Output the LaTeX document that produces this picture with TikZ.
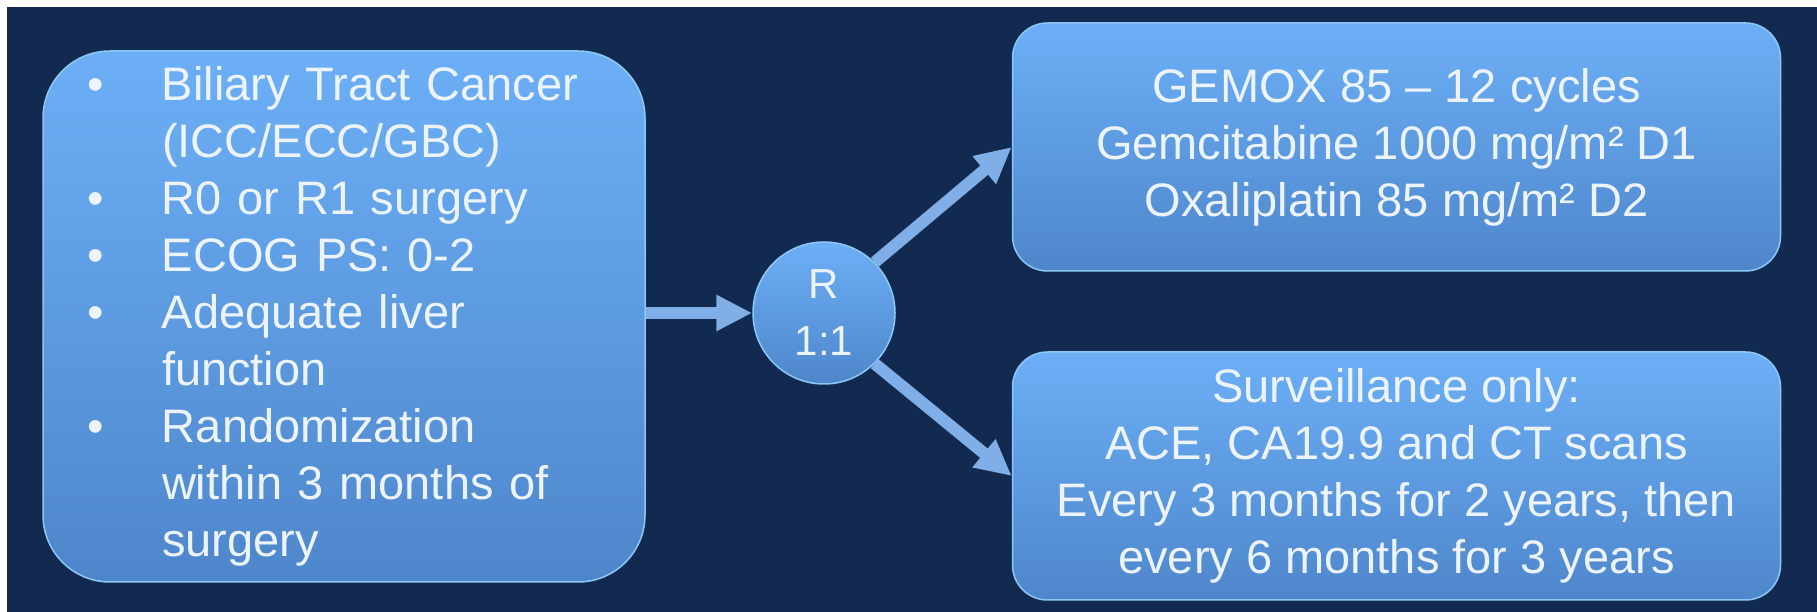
\documentclass[tikz,border=0pt]{standalone}
\usepackage{fontspec}
\setmainfont{Liberation Sans}
\usepackage{xcolor}
\usetikzlibrary{arrows.meta,positioning}
\definecolor{slide}{RGB}{18,42,80}
\definecolor{boxtop}{RGB}{108,175,246}
\definecolor{boxbot}{RGB}{78,134,203}
\definecolor{boxedge}{RGB}{140,200,245}
\definecolor{txtc}{RGB}{236,243,251}
\definecolor{arrc}{RGB}{128,174,230}
\newcommand{\itm}[1]{\makebox[75pt][l]{\textbullet}#1}
\newcommand{\cnt}[1]{\hspace*{75pt}#1}
\tikzset{
  blk/.style    ={draw=boxedge,line width=1.5pt,top color=boxtop,bottom color=boxbot,
                  text=txtc,inner sep=0pt,font=\fontsize{47}{57}\selectfont},
  inbox/.style  ={blk,rounded corners=67pt,align=left,text width=514pt,
                  minimum width=602pt,minimum height=531pt},
  armbox/.style ={blk,rounded corners=35pt,align=center,
                  minimum width=768pt,minimum height=248pt},
  randc/.style  ={blk,circle,align=center,minimum size=142pt,
                  font=\fontsize{42}{57}\selectfont},
  flow/.style   ={-{Triangle[length=36pt,width=34pt]},line width=12pt,draw=arrc},
}
\begin{document}
\begin{tikzpicture}[x=1pt,y=1pt]
  \useasboundingbox (0,0) rectangle (1817,612);
  \fill[white] (0,0) rectangle (1817,612);
  \fill[slide] (7,0) rectangle (1817,605);
  % eligibility
  \node[inbox] (elig) at (344,295.5) {\itm{Biliary Tract Cancer}\\
    \cnt{(ICC/ECC/GBC)}\\
    \itm{R0 or R1 surgery}\\
    \itm{ECOG PS: 0-2}\\
    \itm{Adequate liver}\\
    \cnt{function}\\
    \itm{Randomization}\\
    \cnt{within 3 months of}\\
    \cnt{surgery}};
  \node[randc] (rnd) at (824,299) {R\\1:1};
  % arms
  \node[armbox] (gemox) at (1396.5,465) {GEMOX 85 -- 12 cycles\\
    Gemcitabine 1000 mg/m² D1\\
    Oxaliplatin 85 mg/m² D2};
  \node[armbox] (surv) at (1396.5,136) {Surveillance only:\\
    ACE, CA19.9 and CT scans\\
    Every 3 months for 2 years, then\\
    every 6 months for 3 years};
  \draw[flow] (rnd.west -| elig.east) -- (rnd.west);
  \draw[flow] (rnd.45) -- (gemox.west);
  \draw[flow] (rnd.-45) -- (surv.west);
\end{tikzpicture}
\end{document}
